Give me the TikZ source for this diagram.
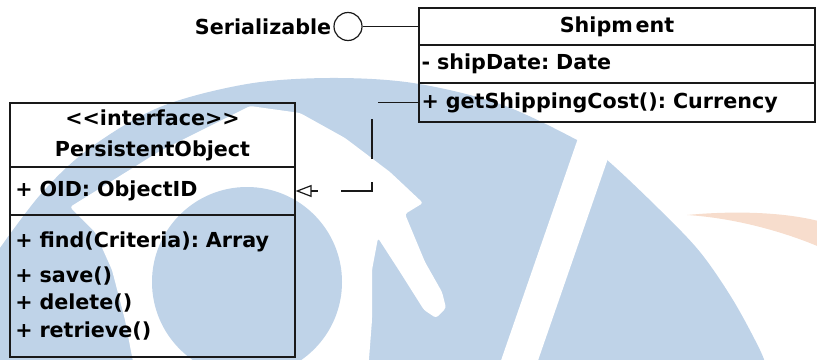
\documentclass[tikz,border=0pt]{standalone}
\usepackage{fontspec}
\setmainfont{DejaVu Sans}
\usetikzlibrary{arrows.meta}
\definecolor{wmblue}{RGB}{191,211,232}
\definecolor{wmorange}{RGB}{247,221,205}
\definecolor{ink}{RGB}{25,25,25}
\frenchspacing
\begin{document}
\begin{tikzpicture}[x=0.75pt, y=-0.75pt,
  txt/.style={font=\fontsize{15.5}{18}\selectfont\bfseries, text=black},
  compart/.style={txt, draw=ink, line width=0.9pt, rectangle, inner ysep=0pt},
  shipbox/.style={compart, minimum width=297pt, text width=293pt, inner xsep=2pt, align=left},
  pobox/.style={compart, minimum width=213.75pt, text width=205.75pt, inner xsep=4pt, align=left},
  lolli/.style={draw=ink, line width=0.9pt, circle, minimum size=21pt, inner sep=0pt},
  conn/.style={draw=ink, line width=0.9pt},
  realize/.style={conn, dash pattern=on 30pt off 17.25pt, -{Triangle[open, length=12pt, width=9pt, line width=0.9pt]}}]
\useasboundingbox (0,0) rectangle (817,360);
% watermark
\begin{scope}
\clip (0,0) rectangle (817,360);
\fill[wmblue] plot[smooth, tension=0.55] coordinates {(-10,262) (40,195) (90,148) (160,107) (247,84) (330,78) (413,83) (500,104) (577,140) (607,160) (660,210) (700,252) (733,300) (760,350) (768,372)} -- (-10,372) -- cycle;
\fill[white, rounded corners=2pt] (70,207) -- (160,151) -- (250,106) -- (300,113) -- (345,138) -- (390,172) -- (423,203) -- (405,214) -- (425,262) -- (442,292) -- (446,308) -- (436,318) -- (424,310) -- (400,272) -- (378,238) -- (372,270) -- (372,320) -- (368,372) -- (135,372) -- (125,320) -- (112,270) -- (95,232) -- cycle;
\fill[wmblue] (247,282) circle [radius=71.25pt];
\fill[white] (585,118) -- (622,118) -- (534,372) -- (497,372) -- cycle;
\fill[wmorange] (687,215) .. controls (740,210) and (790,213) .. (822,222) -- (822,248) .. controls (785,232) and (735,218) .. (687,215) -- cycle;
\end{scope}
% Shipment class
\node[compart, minimum width=297pt, minimum height=27.75pt, align=center] (shipT) at (617,26.5) {Shipm\kern2pt ent};
\node[shipbox, minimum height=28.5pt] (shipA) at (617,64) {- shipDate: Date};
\node[shipbox, minimum height=29.25pt] (shipO) at (617,102.5) {+ getShippingCost(): Currency};
% PersistentObject interface
\node[compart, minimum width=213.75pt, minimum height=48pt, align=center, font=\fontsize{15.5}{23.25}\selectfont\bfseries] (poH) at (152.5,135) {<{}<interface>{}>\\PersistentObject};
\node[pobox, minimum height=36pt] (poA) at (152.5,191) {+ OID: ObjectID};
\node[pobox, minimum height=106.5pt, font=\fontsize{15.5}{20.5}\selectfont\bfseries] (poO) at (152.5,286) {+ find(Criteria): Array\\[5.5pt]+ save()\\+ delete()\\+ retrieve()};
% lollipop
\node[lolli] (ser) at (348,26.5) {};
\node[txt, anchor=east, inner sep=1.5pt] (serl) at (ser.west) {Serializable};
\draw[conn] (ser.east) -- (shipT.west);
% realization
\coordinate (bend) at (372,102.5);
\draw[realize] (shipO.west) -- (bend) |- (poA.east);
\end{tikzpicture}
\end{document}
